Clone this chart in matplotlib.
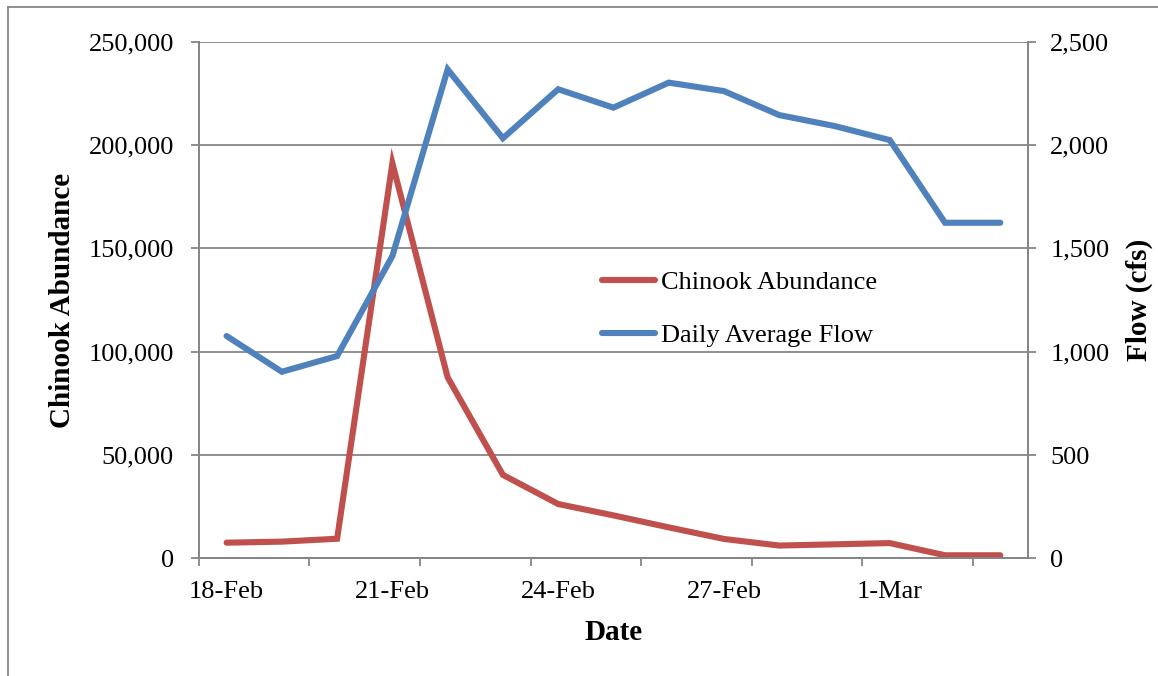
import matplotlib
matplotlib.use('Agg')
import matplotlib.pyplot as plt
from matplotlib.lines import Line2D
from matplotlib.ticker import FuncFormatter

plt.rcParams['font.family'] = ['Liberation Serif', 'DejaVu Serif']

# daily samples, 18-Feb to 3-Mar (leap year)
dates = ['18-Feb', '19-Feb', '20-Feb', '21-Feb', '22-Feb', '23-Feb', '24-Feb', '25-Feb',
         '26-Feb', '27-Feb', '28-Feb', '29-Feb', '1-Mar', '2-Mar', '3-Mar']
chinook = [7600, 8100, 9500, 191200, 87600, 40400, 26300, 20800,
           15000, 9400, 6200, 6800, 7400, 1500, 1500]
flow = [1076, 903, 979, 1463, 2366, 2033, 2270, 2181,
        2302, 2261, 2145, 2092, 2024, 1624, 1624]
label_dates = ['18-Feb', '21-Feb', '24-Feb', '27-Feb', '1-Mar']

red = '#C0504D'
blue = '#4F81BD'
grey = '#868686'
fs = 19      # tick and legend text
fs_t = 21    # axis titles

fig = plt.figure(figsize=(11.58, 6.76), dpi=100)
ax = fig.add_axes([0.1718, 0.1740, 0.8877 - 0.1718, 0.9383 - 0.1740])
ax2 = ax.twinx()

x = list(range(len(dates)))
l1, = ax.plot(x, chinook, color=red, lw=4.4, solid_capstyle='round', solid_joinstyle='miter')
l2, = ax2.plot(x, flow, color=blue, lw=4.4, solid_capstyle='round', solid_joinstyle='miter')

ax.set_xlim(-0.5, len(dates) - 0.5)
ax.set_ylim(0, 250000)
ax2.set_ylim(0, 2500)
ax.set_yticks(range(0, 250001, 50000))
ax2.set_yticks(range(0, 2501, 500))
comma = FuncFormatter(lambda v, p: '{:,.0f}'.format(v))
ax.yaxis.set_major_formatter(comma)
ax2.yaxis.set_major_formatter(comma)

# tick marks between every second category, labels every third date
ax.set_xticks([i - 0.5 for i in range(0, len(dates), 2)])
ax.set_xticklabels([])
ax.set_xticks([dates.index(d) for d in label_dates], minor=True)
ax.set_xticklabels(label_dates, minor=True)
ax.tick_params(axis='x', which='minor', length=0, pad=16, labelsize=fs)
ax.tick_params(axis='x', which='major', length=6, width=1.3, color=grey, direction='out')
ax.tick_params(axis='y', length=6, width=1.3, color=grey, pad=12, labelsize=fs)
ax2.tick_params(axis='y', length=6, width=1.3, color=grey, pad=10, labelsize=fs)

ax.yaxis.grid(True, color=grey, lw=1.3)
ax.set_axisbelow(True)
for a in (ax, ax2):
    a.spines['top'].set_visible(False)
    for s in ('left', 'right', 'bottom'):
        a.spines[s].set_color(grey)
        a.spines[s].set_linewidth(1.3)

ax.set_xlabel('Date', fontsize=fs_t, fontweight='bold', labelpad=12)
ax.set_ylabel('Chinook Abundance', fontsize=fs_t, fontweight='bold', labelpad=9)
ax2.set_ylabel('Flow (cfs)', fontsize=fs_t, fontweight='bold', labelpad=12)

ax2.legend(handles=[l1, l2], labels=['Chinook Abundance', 'Daily Average Flow'],
           loc='center left', bbox_to_anchor=(602 / 1158, 1 - 309 / 676),
           bbox_transform=fig.transFigure, frameon=False, fontsize=fs,
           handlelength=2.0, handletextpad=0.25, labelspacing=1.1,
           borderpad=0, borderaxespad=0)

# chart area border
fig.add_artist(Line2D([8 / 1158, 8 / 1158], [0, 1 - 7 / 676], color=grey, lw=1.3))
fig.add_artist(Line2D([8 / 1158, 1], [1 - 7 / 676, 1 - 7 / 676], color=grey, lw=1.3))

fig.savefig('out.png', dpi=100)
